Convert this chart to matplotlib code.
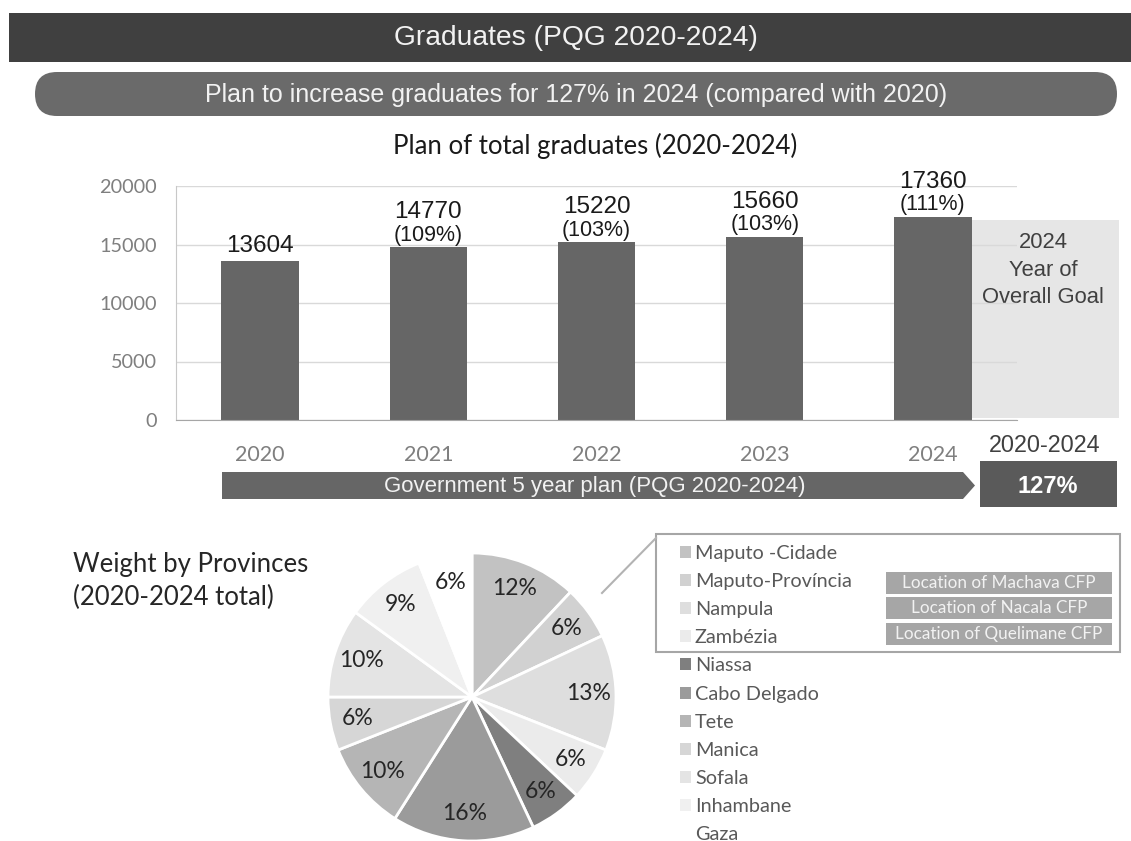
import matplotlib
matplotlib.use("Agg")
import matplotlib.pyplot as plt
from matplotlib.patches import Rectangle, FancyBboxPatch, Polygon, Patch
from matplotlib.font_manager import FontProperties

# ---- data ----
years = ["2020", "2021", "2022", "2023", "2024"]
graduates = [13604, 14770, 15220, 15660, 17360]
growth_labels = ["", "(109%)", "(103%)", "(103%)", "(111%)"]
y_ticks = [0, 5000, 10000, 15000, 20000]
overall_period = "2020-2024"
overall_growth = "127%"

provinces = ["Maputo -Cidade", "Maputo-Província", "Nampula", "Zambézia",
             "Niassa", "Cabo Delgado", "Tete", "Manica", "Sofala",
             "Inhambane", "Gaza"]
province_share = [12, 6, 13, 6, 6, 16, 10, 6, 10, 9, 6]
province_colors = ["#c2c2c2", "#d1d1d1", "#dedede", "#ebebeb", "#7f7f7f",
                   "#9b9b9b", "#b5b5b5", "#d6d6d6", "#e4e4e4", "#f0f0f0",
                   "#ffffff"]
cfp_locations = ["Location of Machava CFP", "Location of Nacala CFP",
                 "Location of Quelimane CFP"]

# ---- layout (pixel canvas) ----
W, H = 1131, 841
CAL = ["Lato", "DejaVu Sans"]
ARI = ["Liberation Sans", "DejaVu Sans"]

fig = plt.figure(figsize=(W / 100, H / 100), dpi=100)
fig.patch.set_facecolor("white")

bg = fig.add_axes([0, 0, 1, 1])
bg.set_xlim(0, W)
bg.set_ylim(H, 0)
bg.axis("off")

# header band
bg.add_patch(Rectangle((9, 13), W - 9, 49, color="#404040", lw=0))
bg.text(576, 38, "Graduates (PQG 2020-2024)", color="#f2f2f2", fontsize=20.3,
        family=ARI, ha="center", va="center")

# pill banner
bg.add_patch(FancyBboxPatch((35, 72), 1082, 44,
                            boxstyle="round,pad=0,rounding_size=22",
                            color="#6a6a6a", lw=0))
bg.text(576, 95, "Plan to increase graduates for 127% in 2024 (compared with 2020)",
        color="#f2f2f2", fontsize=18, family=ARI, ha="center", va="center")

bg.text(595, 146, "Plan of total graduates (2020-2024)", color="#1a1a1a",
        fontsize=18.5, family=CAL, ha="center", va="center")

# overall goal panel behind the bar chart
bg.add_patch(Rectangle((972, 220), 147, 198, color="#e6e6e6", lw=0))
bg.text(1043, 270, "2024\nYear of\nOverall Goal", color="#404040",
        fontsize=15.8, family=ARI, ha="center", va="center", linespacing=1.4)

# five-year plan arrow
bg.add_patch(Polygon([(222, 472), (963, 472), (975, 485.5), (963, 499), (222, 499)],
                     closed=True, color="#666666", lw=0))
bg.text(595, 486, "Government 5 year plan (PQG 2020-2024)", color="#f2f2f2",
        fontsize=16, family=ARI, ha="center", va="center")

bg.text(1045, 445, overall_period, color="#404040", fontsize=16.8, family=ARI,
        ha="center", va="center")
bg.add_patch(Rectangle((980, 461), 137, 46, color="#5a5a5a", lw=0))
bg.text(1048, 486, overall_growth, color="white", fontsize=17, family=ARI,
        fontweight="bold", ha="center", va="center")

# ---- bar chart ----
ax = fig.add_axes([176 / W, 1 - 420 / H, (1017 - 176) / W, (420 - 186) / H])
ax.set_facecolor("none")
x = list(range(len(years)))
bars = ax.bar(x, graduates, width=0.46, color="#666666", zorder=2)
ax.set_xlim(-0.5, len(years) - 0.5)
ax.set_ylim(0, 20000)
ax.set_yticks(y_ticks)
ax.set_xticks(x, years)
ax.yaxis.grid(True, color="#d9d9d9", lw=1)
ax.set_axisbelow(True)
for s in ("top", "right"):
    ax.spines[s].set_visible(False)
ax.spines["left"].set_color("#c8c8c8")
ax.spines["bottom"].set_color("#a6a6a6")
ax.tick_params(axis="both", length=0)
ax.tick_params(axis="y", pad=14, labelsize=14.3, labelcolor="#7f7f7f")
ax.tick_params(axis="x", pad=18, labelsize=15.5, labelcolor="#7f7f7f")
for lab in ax.get_xticklabels() + ax.get_yticklabels():
    lab.set_family(CAL)

for xi, val, pct in zip(x, graduates, growth_labels):
    if pct:
        ax.annotate(pct, (xi, val), xytext=(0, 1), textcoords="offset points",
                    ha="center", va="bottom", fontsize=15.5, family=ARI,
                    color="#1a1a1a")
        off = 21
    else:
        off = 6
    ax.annotate(str(val), (xi, val), xytext=(0, off), textcoords="offset points",
                ha="center", va="baseline", fontsize=17.5, family=ARI,
                color="#1a1a1a")

# ---- pie chart ----
cx, cy, r = 472, 697, 144
pax = fig.add_axes([(cx - r) / W, 1 - (cy + r) / H, 2 * r / W, 2 * r / H])
wedges, _, autotexts = pax.pie(
    province_share, colors=province_colors, startangle=90, counterclock=False,
    autopct="%.0f%%", pctdistance=0.81,
    wedgeprops=dict(edgecolor="white", linewidth=2),
    textprops=dict(fontsize=16.5, color="#262626", family=CAL))
pax.set_xlim(-1, 1)
pax.set_ylim(-1, 1)

bg.text(73, 581, "Weight by Provinces\n(2020-2024 total)", color="#262626",
        fontsize=18.5, family=CAL, ha="left", va="center", linespacing=1.42)

# legend
handles = [Patch(facecolor=c, edgecolor="none") for c in province_colors]
bg.legend(handles, provinces, loc="upper left", bbox_to_anchor=(680, 545),
          bbox_transform=bg.transData, frameon=False, borderpad=0,
          borderaxespad=0, handlelength=0.55, handleheight=0.55,
          handletextpad=0.2, labelspacing=0.56,
          prop=FontProperties(family=CAL, size=14.3), labelcolor="#595959")

# highlight box for CFP provinces
bg.add_patch(Rectangle((656, 534), 464, 118, fill=False, edgecolor="#a6a6a6", lw=1.5))
bg.plot([602, 656], [593, 538], color="#b3b3b3", lw=1.5)
for label, y0 in zip(cfp_locations, [572, 597, 623]):
    bg.add_patch(Rectangle((886, y0), 226, 22, color="#a6a6a6", lw=0))
    bg.text(999, y0 + 11, label, color="#f2f2f2", fontsize=12.3, family=CAL,
            ha="center", va="center")

fig.savefig("out.png", dpi=100)
